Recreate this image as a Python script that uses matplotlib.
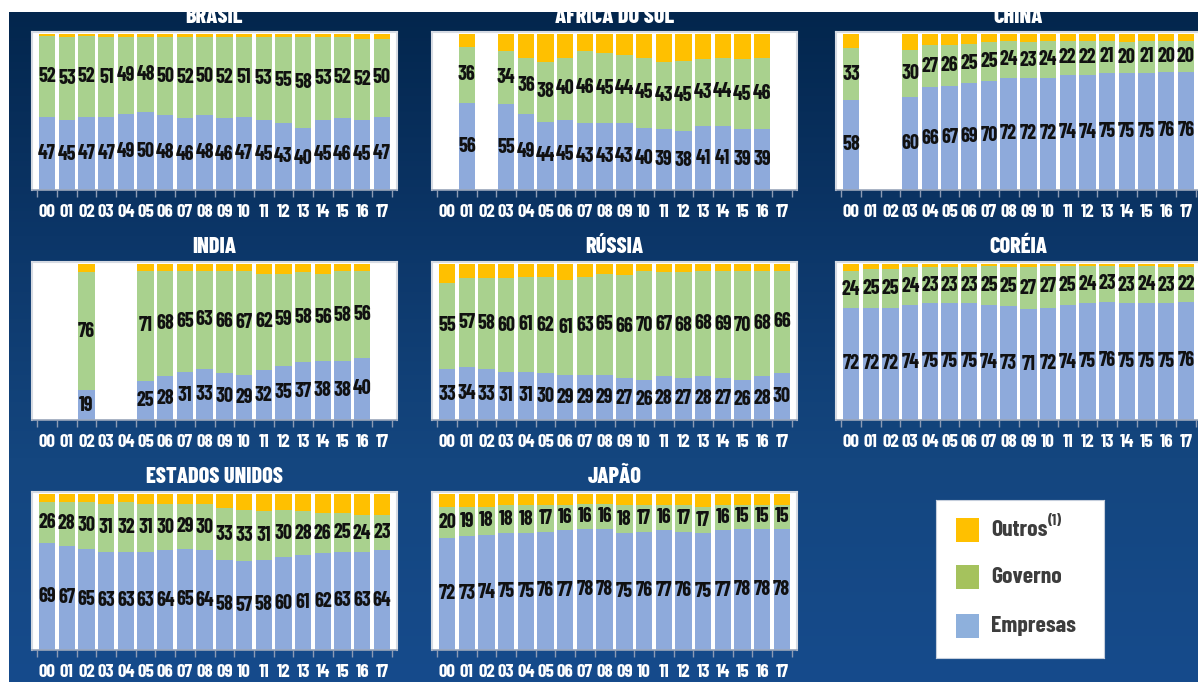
import numpy as np
import matplotlib
matplotlib.use('Agg')
import matplotlib.pyplot as plt
from matplotlib.patches import Rectangle
from matplotlib.colors import LinearSegmentedColormap
from matplotlib import font_manager as fm

_avail = {f.name for f in fm.fontManager.ttflist}
_prefs = ['Barlow Condensed', 'Roboto Condensed', 'Archivo Narrow', 'PT Sans Narrow',
          'Oswald', 'Liberation Sans Narrow', 'DejaVu Sans']
CHOSEN = next(p for p in _prefs if p in _avail)
FONT = [CHOSEN, 'DejaVu Sans']
plt.rcParams['font.family'] = FONT

years = ['00', '01', '02', '03', '04', '05', '06', '07', '08', '09',
         '10', '11', '12', '13', '14', '15', '16', '17']
N = None

brasil_emp = [47, 45, 47, 47, 49, 50, 48, 46, 48, 46, 47, 45, 43, 40, 45, 46, 45, 47]
brasil_gov = [52, 53, 52, 51, 49, 48, 50, 52, 50, 52, 51, 53, 55, 58, 53, 52, 52, 50]
brasil_out = [1, 2, 1, 2, 2, 2, 2, 2, 2, 2, 2, 2, 2, 2, 2, 2, 3, 3]

africa_emp = [N, 56, N, 55, 49, 44, 45, 43, 43, 43, 40, 39, 38, 41, 41, 39, 39, N]
africa_gov = [N, 36, N, 34, 36, 38, 40, 46, 45, 44, 45, 43, 45, 43, 44, 45, 46, N]
africa_out = [N, 8, N, 11, 15, 18, 15, 11, 12, 13, 15, 18, 17, 16, 15, 16, 15, N]

china_emp = [58, N, N, 60, 66, 67, 69, 70, 72, 72, 72, 74, 74, 75, 75, 75, 76, 76]
china_gov = [33, N, N, 30, 27, 26, 25, 25, 24, 23, 24, 22, 22, 21, 20, 21, 20, 20]
china_out = [9, N, N, 10, 7, 7, 6, 5, 4, 5, 4, 4, 4, 4, 5, 4, 4, 4]

india_emp = [N, N, 19, N, N, 25, 28, 31, 33, 30, 29, 32, 35, 37, 38, 38, 40, N]
india_gov = [N, N, 76, N, N, 71, 68, 65, 63, 66, 67, 62, 59, 58, 56, 58, 56, N]
india_out = [N, N, 5, N, N, 4, 4, 4, 4, 4, 4, 6, 6, 5, 6, 4, 4, N]

russia_emp = [33, 34, 33, 31, 31, 30, 29, 29, 29, 27, 26, 28, 27, 28, 27, 26, 28, 30]
russia_gov = [55, 57, 58, 60, 61, 62, 61, 63, 65, 66, 70, 67, 68, 68, 69, 70, 68, 66]
russia_out = [12, 9, 9, 9, 8, 8, 10, 8, 6, 7, 4, 5, 5, 4, 4, 4, 4, 4]

korea_emp = [72, 72, 72, 74, 75, 75, 75, 74, 73, 71, 72, 74, 75, 76, 75, 75, 75, 76]
korea_gov = [24, 25, 25, 24, 23, 23, 23, 25, 25, 27, 27, 25, 24, 23, 23, 24, 23, 22]
korea_out = [4, 3, 3, 2, 2, 2, 2, 1, 2, 2, 1, 1, 1, 1, 2, 1, 2, 2]

usa_emp = [69, 67, 65, 63, 63, 63, 64, 65, 64, 58, 57, 58, 60, 61, 62, 63, 63, 64]
usa_gov = [26, 28, 30, 31, 32, 31, 30, 29, 30, 33, 33, 31, 30, 28, 26, 25, 24, 23]
usa_out = [5, 5, 5, 6, 5, 6, 6, 6, 6, 9, 10, 11, 10, 11, 12, 12, 13, 13]

japan_emp = [72, 73, 74, 75, 75, 76, 77, 78, 78, 75, 76, 77, 76, 75, 77, 78, 78, 78]
japan_gov = [20, 19, 18, 18, 18, 17, 16, 16, 16, 18, 17, 16, 17, 17, 16, 15, 15, 15]
japan_out = [8, 8, 8, 7, 7, 7, 7, 6, 6, 7, 7, 7, 7, 8, 7, 7, 7, 7]

titles = ['BRASIL', 'ÁFRICA DO SUL', 'CHINA', 'INDIA', 'RÚSSIA', 'CORÉIA',
          'ESTADOS UNIDOS', 'JAPÃO']
series = [
    (brasil_emp, brasil_gov, brasil_out),
    (africa_emp, africa_gov, africa_out),
    (china_emp, china_gov, china_out),
    (india_emp, india_gov, india_out),
    (russia_emp, russia_gov, russia_out),
    (korea_emp, korea_gov, korea_out),
    (usa_emp, usa_gov, usa_out),
    (japan_emp, japan_gov, japan_out),
]
legend_labels = ['Outros', 'Governo', 'Empresas']

C_EMP = '#8eaadb'
C_GOV = '#a9d18e'
C_OUT = '#ffc000'

W, H = 1198, 682
fig = plt.figure(figsize=(W / 100, H / 100), dpi=100, facecolor='white')


def px_axes(x0, y0, x1, y1):
    return fig.add_axes([x0 / W, 1 - y1 / H, (x1 - x0) / W, (y1 - y0) / H])


# background gradient
bg = px_axes(9, 12, W, H)
grad = np.linspace(0, 1, 256).reshape(-1, 1)
cmap = LinearSegmentedColormap.from_list('bg', ['#03264d', '#0c3668', '#14467f', '#164b8c'])
bg.imshow(grad, aspect='auto', cmap=cmap, extent=[0, 1, 1, 0])
bg.set_axis_off()

col_x = [32, 432, 836]
row_y = [32, 262, 492]
PW, PH = 365, 158

x = np.arange(len(years))
for k, (title, (emp, gov, out)) in enumerate(zip(titles, series)):
    r, c = divmod(k, 3)
    x0, y0 = col_x[c], row_y[r]
    ax = px_axes(x0, y0, x0 + PW, y0 + PH)
    ax.set_facecolor('white')
    valid = [i for i in range(len(years)) if emp[i] is not None]
    e = np.array([emp[i] for i in valid], float)
    g = np.array([gov[i] for i in valid], float)
    o = np.array([out[i] for i in valid], float)
    xv = x[valid]
    bw = 0.83
    ax.bar(xv, e, bw, color=C_EMP, linewidth=0)
    ax.bar(xv, g, bw, bottom=e, color=C_GOV, linewidth=0)
    ax.bar(xv, o, bw, bottom=e + g, color=C_OUT, linewidth=0)
    for xi, ei, gi in zip(xv, e, g):
        ax.text(xi, ei / 2, f'{int(ei)}', ha='center', va='center',
                fontsize=14.5, fontweight='bold', color='#111111')
        ax.text(xi, ei + gi / 2, f'{int(gi)}', ha='center', va='center',
                fontsize=14.5, fontweight='bold', color='#111111')
    ax.set_xlim(-0.77, len(years) - 1 + 0.77)
    ax.set_ylim(0, 101.5)
    ax.set_yticks([])
    ax.set_xticks(x)
    ax.set_xticklabels(years, color='white', fontsize=13.5, fontweight='bold')
    ax.tick_params(axis='x', which='major', length=0, pad=10)
    ax.set_xticks(np.arange(-0.5, len(years), 1), minor=True)
    ax.tick_params(axis='x', which='minor', length=5, width=1, color='#8d9bb3')
    for s in ['top', 'left', 'right']:
        ax.spines[s].set_color('#d6dbe3')
        ax.spines[s].set_linewidth(1.5)
    ax.spines['bottom'].set_color('#9aa6ba')
    ax.spines['bottom'].set_linewidth(1.2)
    fig.text((x0 + PW / 2) / W, 1 - (y0 - 15) / H, title, ha='center', va='center',
             color='white', fontsize=16, fontweight=800)

# legend box
lg = px_axes(936, 500, 1104, 658)
lg.set_facecolor('white')
lg.set_xlim(936, 1104)
lg.set_ylim(658, 500)
lg.set_xticks([])
lg.set_yticks([])
for s in lg.spines.values():
    s.set_color('#c5cedc')
leg_colors = ['#ffc000', '#a5c25d', '#8eb0dc']
leg_y = [529.5, 577, 625.5]
for lab, col, yy in zip(legend_labels, leg_colors, leg_y):
    lg.add_patch(Rectangle((956, yy - 12), 23, 24, facecolor=col, edgecolor='none'))
    t = lg.text(991, yy, lab, ha='left', va='center', fontsize=17,
                fontweight='bold', color='#3d3d3d')
    if lab == 'Outros':
        lg.annotate('(1)', xy=(1.0, 0.95), xycoords=t, ha='left', va='center',
                    fontsize=11, fontweight='bold', color='#3d3d3d')

# white strip at top
fig.add_artist(Rectangle((0, 1 - 12 / H), 1, 12 / H, transform=fig.transFigure,
                         facecolor='white', edgecolor='none', zorder=100))

fig.savefig('out.png', dpi=100, facecolor='white')
